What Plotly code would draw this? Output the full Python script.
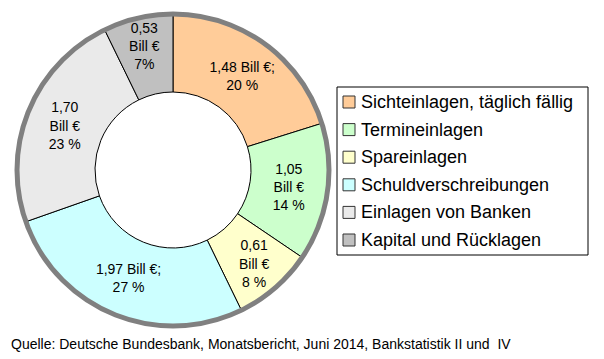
import plotly.graph_objects as go

labels = ["Sichteinlagen, täglich fällig", "Termineinlagen", "Spareinlagen",
          "Schuldverschreibungen", "Einlagen von Banken", "Kapital und Rücklagen"]
values = [1.48, 1.05, 0.61, 1.97, 1.70, 0.53]
slice_texts = ["1,48 Bill €;<br>20 %", "1,05<br>Bill €<br>14 %", "0,61<br>Bill €<br>8 %",
               "1,97 Bill €;<br>27 %", "1,70<br>Bill €<br>23 %", "0,53<br>Bill €<br>7%"]
colors = ["#FFCC99", "#CCFFCC", "#FFFFCC", "#CCFFFF", "#EAEAEA", "#C0C0C0"]
source = "Quelle: Deutsche Bundesbank, Monatsbericht, Juni 2014, Bankstatistik II und  IV"

W, H = 604, 359
cx, cy, R = 173, 170, 156
FONT = "Arial, Liberation Sans, sans-serif"

fig = go.Figure(go.Pie(
    labels=labels, values=values, text=slice_texts, textinfo="text",
    sort=False, direction="clockwise", rotation=0, hole=0.5,
    marker=dict(colors=colors, line=dict(color="black", width=1)),
    textposition="inside", insidetextorientation="horizontal",
    textfont=dict(family=FONT, size=14, color="black"),
    domain=dict(x=[(cx - R) / W, (cx + R) / W], y=[(H - cy - R) / H, (H - cy + R) / H]),
    showlegend=False, hoverinfo="label+value+percent",
))

shapes = [dict(type="circle", xref="paper", yref="paper",
               x0=(cx - R) / W, x1=(cx + R) / W, y0=(H - cy - R) / H, y1=(H - cy + R) / H,
               line=dict(color="#808080", width=5), layer="above")]
annotations = []

# legend box
lx0, ly0, lx1, ly1 = 337, 87, 588, 255
shapes.append(dict(type="rect", xref="paper", yref="paper",
                   x0=lx0 / W, x1=lx1 / W, y0=1 - ly1 / H, y1=1 - ly0 / H,
                   line=dict(color="black", width=1), fillcolor="white"))
row0, gap = 102, 27.6
for i, (lab, col) in enumerate(zip(labels, colors)):
    yc = row0 + i * gap
    shapes.append(dict(type="rect", xref="paper", yref="paper",
                       x0=343 / W, x1=355 / W, y0=1 - (yc + 6) / H, y1=1 - (yc - 6) / H,
                       line=dict(color="#333333", width=1), fillcolor=col))
    annotations.append(dict(text=lab, xref="paper", yref="paper", x=359 / W, y=1 - yc / H,
                            xanchor="left", yanchor="middle", showarrow=False,
                            font=dict(family=FONT, size=18, color="black")))

annotations.append(dict(text=source, xref="paper", yref="paper", x=9 / W, y=1 - 344 / H,
                        xanchor="left", yanchor="middle", showarrow=False,
                        font=dict(family=FONT, size=14, color="black")))

fig.update_layout(
    width=W, height=H, margin=dict(l=0, r=0, t=0, b=0),
    paper_bgcolor="white", plot_bgcolor="white",
    shapes=shapes, annotations=annotations,
    uniformtext=dict(minsize=14, mode="show"),
    showlegend=False,
)
fig.write_html("out.html", config={"displayModeBar": False},
               post_script="document.body.style.margin='0';document.body.style.overflow='hidden';")
